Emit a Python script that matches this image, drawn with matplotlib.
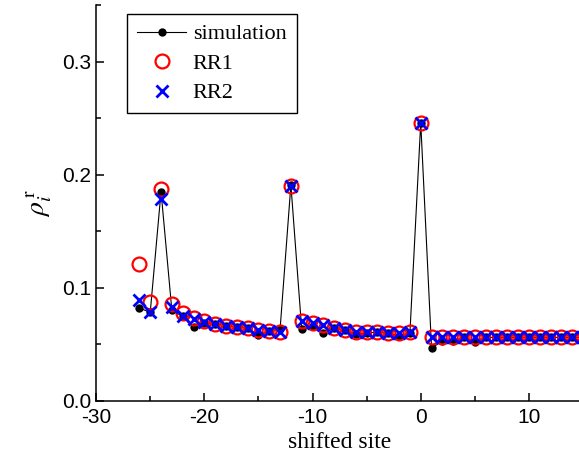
import numpy as np
import matplotlib.pyplot as plt
from matplotlib.ticker import MultipleLocator, FormatStrFormatter

plt.rcParams['axes.unicode_minus'] = False
plt.rcParams['mathtext.fontset'] = 'stix'

# shifted site index
sites = np.arange(-26, 16)

# simulation values
simulation = [0.082, 0.078, 0.185, 0.080, 0.0745, 0.065, 0.069, 0.068, 0.066, 0.065,
              0.064, 0.058, 0.062, 0.063, 0.191, 0.063, 0.066, 0.0596, 0.064, 0.0626,
              0.0588, 0.060, 0.0605, 0.0596, 0.0573, 0.060, 0.246, 0.0464, 0.0528, 0.0528,
              0.056, 0.0522, 0.056, 0.056, 0.056, 0.056, 0.056, 0.056, 0.056, 0.056,
              0.056, 0.056]

# RR1 values
rr1 = [0.1207, 0.0871, 0.1871, 0.0853, 0.0773, 0.0735, 0.0705, 0.0676, 0.066, 0.0655,
       0.064, 0.0626, 0.062, 0.061, 0.1903, 0.0705, 0.0685, 0.0665, 0.064, 0.0626,
       0.061, 0.061, 0.0605, 0.0596, 0.0596, 0.0605, 0.246, 0.0565, 0.0565, 0.0565,
       0.0565, 0.0565, 0.0565, 0.0565, 0.0565, 0.0565, 0.0565, 0.0565, 0.0565, 0.0565,
       0.0565, 0.0565]

# RR2 values
rr2 = [0.0891, 0.0782, 0.178, 0.0826, 0.0752, 0.072, 0.070, 0.0676, 0.066, 0.0655,
       0.064, 0.0626, 0.062, 0.061, 0.1903, 0.0705, 0.0685, 0.0665, 0.064, 0.0626,
       0.061, 0.061, 0.0605, 0.0596, 0.0596, 0.0605, 0.246, 0.0565, 0.0565, 0.0565,
       0.0565, 0.0565, 0.0565, 0.0565, 0.0565, 0.0565, 0.0565, 0.0565, 0.0565, 0.0565,
       0.0565, 0.0565]

fig = plt.figure(figsize=(5.79, 4.68), dpi=100)
ax = fig.add_axes([0.166, 0.144, 0.841, 0.845])

ax.plot(sites, simulation, color='black', lw=0.8, marker='o', ms=5,
        label='simulation', zorder=2)
ax.plot(sites, rr1, ls='none', marker='o', ms=10, mfc='none', mec='red',
        mew=1.6, label='RR1', zorder=3)
ax.plot(sites, rr2, ls='none', marker='x', ms=8, mec='blue', mew=2,
        label='RR2', zorder=4)

ax.set_xlim(-30, 15)
ax.set_ylim(0, 0.35)
ax.xaxis.set_major_locator(MultipleLocator(10))
ax.xaxis.set_minor_locator(MultipleLocator(5))
ax.yaxis.set_major_locator(MultipleLocator(0.1))
ax.yaxis.set_minor_locator(MultipleLocator(0.05))
ax.yaxis.set_major_formatter(FormatStrFormatter('%.1f'))

ax.tick_params(which='both', direction='in', top=False, right=False,
               labelsize=15, width=1.1)
ax.tick_params(which='major', length=6)
ax.tick_params(which='minor', length=3.5)
ax.tick_params(axis='x', pad=5)
for lab in ax.get_xticklabels() + ax.get_yticklabels():
    lab.set_family('Liberation Sans')

ax.spines['top'].set_visible(False)
ax.spines['right'].set_visible(False)
ax.spines['left'].set_linewidth(1.1)
ax.spines['bottom'].set_linewidth(1.1)

ax.set_xlabel('shifted site', family='Liberation Serif', fontsize=17, labelpad=4)
ax.set_ylabel(r'$\rho_i^{\,\mathrm{r}}$', fontsize=20, labelpad=6)

leg = ax.legend(loc='upper left', bbox_to_anchor=(0.064, 0.978), frameon=True,
                fancybox=False, edgecolor='black', framealpha=1,
                prop={'family': 'Liberation Serif', 'size': 16},
                handlelength=2.2, handletextpad=0.3, labelspacing=0.4,
                borderpad=0.45, borderaxespad=0)
leg.get_frame().set_linewidth(1.0)

fig.savefig('out.png', dpi=100)
